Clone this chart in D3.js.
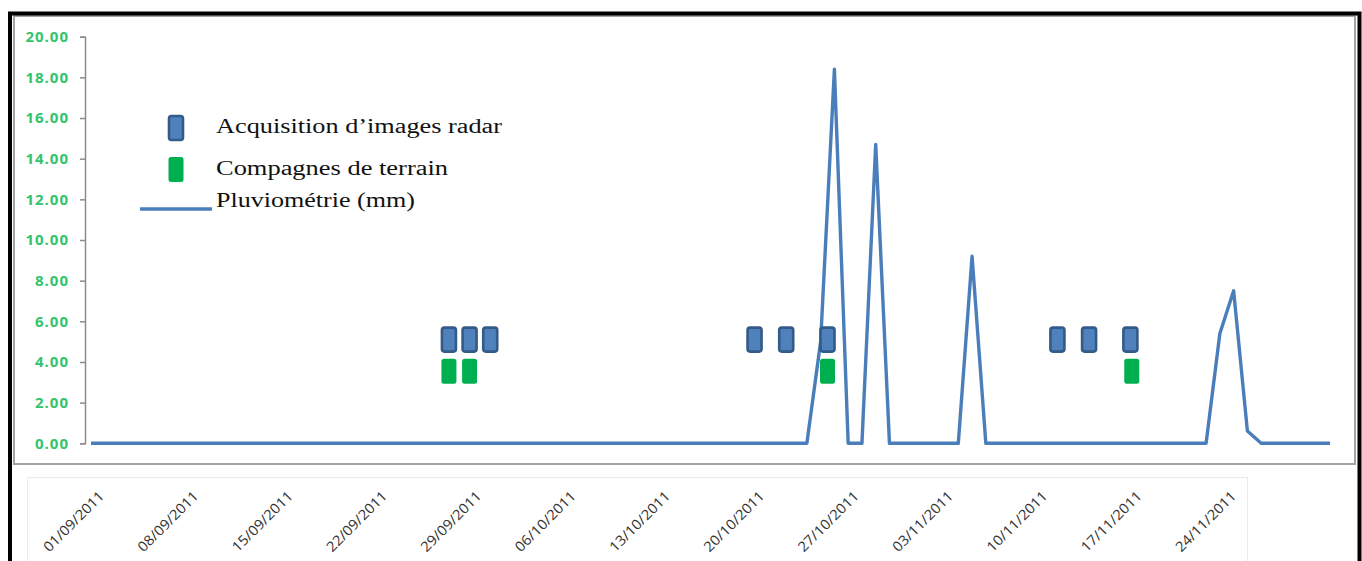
<!DOCTYPE html>
<html>
<head>
<meta charset="utf-8">
<script src="https://cdn.jsdelivr.net/npm/d3@7"></script>
<style>
	body { margin: 0; background: #fff; }
	svg { display: block; }
</style>
</head>
<body>
<div id="chart"></div>
<script>

// daily rainfall, 01/09/2011 -> 30/11/2011
var startDate = '2011-09-01';
var endDate = '2011-11-30';
var rain = [
	0, 0, 0, 0, 0, 0, 0, 0, 0, 0,
	0, 0, 0, 0, 0, 0, 0, 0, 0, 0,
	0, 0, 0, 0, 0, 0, 0, 0, 0, 0,
	0, 0, 0, 0, 0, 0, 0, 0, 0, 0,
	0, 0, 0, 0, 0, 0, 0, 0, 0, 0,
	0, 0, 0, 5.0, 18.4, 0, 0, 14.7, 0, 0,
	0, 0, 0, 0, 9.2, 0, 0, 0, 0, 0,
	0, 0, 0, 0, 0, 0, 0, 0, 0, 0,
	0, 0, 5.4, 7.5, 0.6, 0, 0, 0, 0, 0,
	0
];

// symbols placed by hand on the chart (days after 01/09) and their level
var radarDays = [26, 27.5, 29, 48.2, 50.5, 53.5, 70.2, 72.5, 75.5];
var terrainDays = [26, 27.5, 53.5, 75.6];
var radarLevel = 5.1;
var terrainLevel = 3.55;

var yTicks = [0, 2, 4, 6, 8, 10, 12, 14, 16, 18, 20];
var labelDates = ['01/09/2011', '08/09/2011', '15/09/2011', '22/09/2011', '29/09/2011', '06/10/2011',
	'13/10/2011', '20/10/2011', '27/10/2011', '03/11/2011', '10/11/2011', '17/11/2011', '24/11/2011'];
var legendLabels = ['Acquisition d\u2019images radar', 'Compagnes de terrain', 'Pluviom\u00e9trie (mm)'];

var width = 1362;
var height = 561;

var parseIso = d3.timeParse('%Y-%m-%d');
var parseFr = d3.timeParse('%d/%m/%Y');
var start = parseIso(startDate);
var end = parseIso(endDate);
var days = d3.timeDay.range(start, d3.timeDay.offset(end, 1));
var series = days.map(function(d, i) { return {date: d, value: rain[i]}; });

function dayToDate(n) { return new Date(start.getTime() + n * 864e5); }

var x = d3.scaleTime().domain([start, end]).range([91, 1330]);
var y = d3.scaleLinear().domain([0, 20]).range([443.3, 36.7]);

// the date strip under the chart is a separate block, its spacing is not the plot's
var xl = d3.scaleTime().domain([parseFr(labelDates[0]), parseFr(labelDates[labelDates.length - 1])]).range([105, 1237]);

var svg = d3.select('#chart').append('svg')
	.attr('width', width)
	.attr('height', height)

// frames
svg.append('rect')
	.attr('x', 27.5)
	.attr('y', 477.5)
	.attr('width', 1220)
	.attr('height', 100)
	.attr('fill', 'white')
	.attr('stroke', '#ebebeb')
	.attr('stroke-width', 1)

svg.append('rect')
	.attr('x', 14)
	.attr('y', 16)
	.attr('width', 1341)
	.attr('height', 448)
	.attr('fill', 'white')
	.attr('stroke', '#a3a3a3')
	.attr('stroke-width', 2)

svg.append('path')
	.attr('d', 'M10,' + height + 'V13.5H1359.5V' + height)
	.attr('fill', 'none')
	.attr('stroke', 'black')
	.attr('stroke-width', 4)

// y axis
var yAxis = d3.axisLeft(y)
	.tickValues(yTicks)
	.tickFormat(d3.format('.2f'))
	.tickSize(5)
	.tickPadding(11);

var ga = svg.append('g')
	.attr('transform', 'translate(85,0)')
	.call(yAxis)

ga.select('.domain').attr('stroke', '#8c8c8c').attr('stroke-width', 1.5)
ga.selectAll('.tick line').attr('stroke', '#8c8c8c').attr('stroke-width', 1.5)
ga.selectAll('.tick text')
	.attr('fill', '#33c46c')
	.attr('font-family', 'Open Sans')
	.attr('font-weight', 'bold')
	.attr('font-size', '15px')
	.attr('letter-spacing', '1px')

// rainfall line
var line = d3.line()
	.x(function(d) { return x(d.date); })
	.y(function(d) { return y(d.value); });

svg.append('path')
	.datum(series)
	.attr('d', line)
	.attr('fill', 'none')
	.attr('stroke', '#4a7ebb')
	.attr('stroke-width', 3.4)
	.attr('stroke-linejoin', 'round')

// symbols
svg.selectAll('.radar').data(radarDays).enter().append('rect')
	.attr('class', 'radar')
	.attr('x', function(d) { return x(dayToDate(d)) - 7; })
	.attr('y', y(radarLevel) - 12)
	.attr('width', 14)
	.attr('height', 24)
	.attr('rx', 2.5)
	.attr('fill', '#4f81bd')
	.attr('stroke', '#345a88')
	.attr('stroke-width', 2.6)

svg.selectAll('.terrain').data(terrainDays).enter().append('rect')
	.attr('class', 'terrain')
	.attr('x', function(d) { return x(dayToDate(d)) - 7.5; })
	.attr('y', y(terrainLevel) - 12.5)
	.attr('width', 15)
	.attr('height', 25)
	.attr('rx', 2.5)
	.attr('fill', '#00b050')

// legend
var legend = svg.append('g').attr('font-family', 'Liberation Serif').attr('font-size', '20px').attr('fill', '#111');

legend.append('rect')
	.attr('x', 169).attr('y', 116)
	.attr('width', 14).attr('height', 24).attr('rx', 2.5)
	.attr('fill', '#4f81bd').attr('stroke', '#345a88').attr('stroke-width', 2.6)

legend.append('rect')
	.attr('x', 168.5).attr('y', 157)
	.attr('width', 15).attr('height', 25).attr('rx', 2.5)
	.attr('fill', '#00b050')

legend.append('line')
	.attr('x1', 140).attr('x2', 212)
	.attr('y1', 209).attr('y2', 209)
	.attr('stroke', '#4a7ebb').attr('stroke-width', 3.4)

var legendBase = [133, 175, 207];
var legendLen = [286, 232, 199];

legend.selectAll('text').data(legendLabels).enter().append('text')
	.attr('x', 216)
	.attr('y', function(d, i) { return legendBase[i]; })
	.attr('textLength', function(d, i) { return legendLen[i]; })
	.attr('lengthAdjust', 'spacingAndGlyphs')
	.text(function(d) { return d; })

// date strip
svg.selectAll('.xlabel').data(labelDates).enter().append('text')
	.attr('class', 'xlabel')
	.attr('transform', function(d) { return 'translate(' + xl(parseFr(d)) + ',497) rotate(-45)'; })
	.attr('text-anchor', 'end')
	.attr('font-family', 'Open Sans')
	.attr('font-size', '14px')
	.attr('fill', '#333')
	.attr('textLength', 79)
	.attr('lengthAdjust', 'spacingAndGlyphs')
	.text(function(d) { return d; })

</script>
</body>
</html>
